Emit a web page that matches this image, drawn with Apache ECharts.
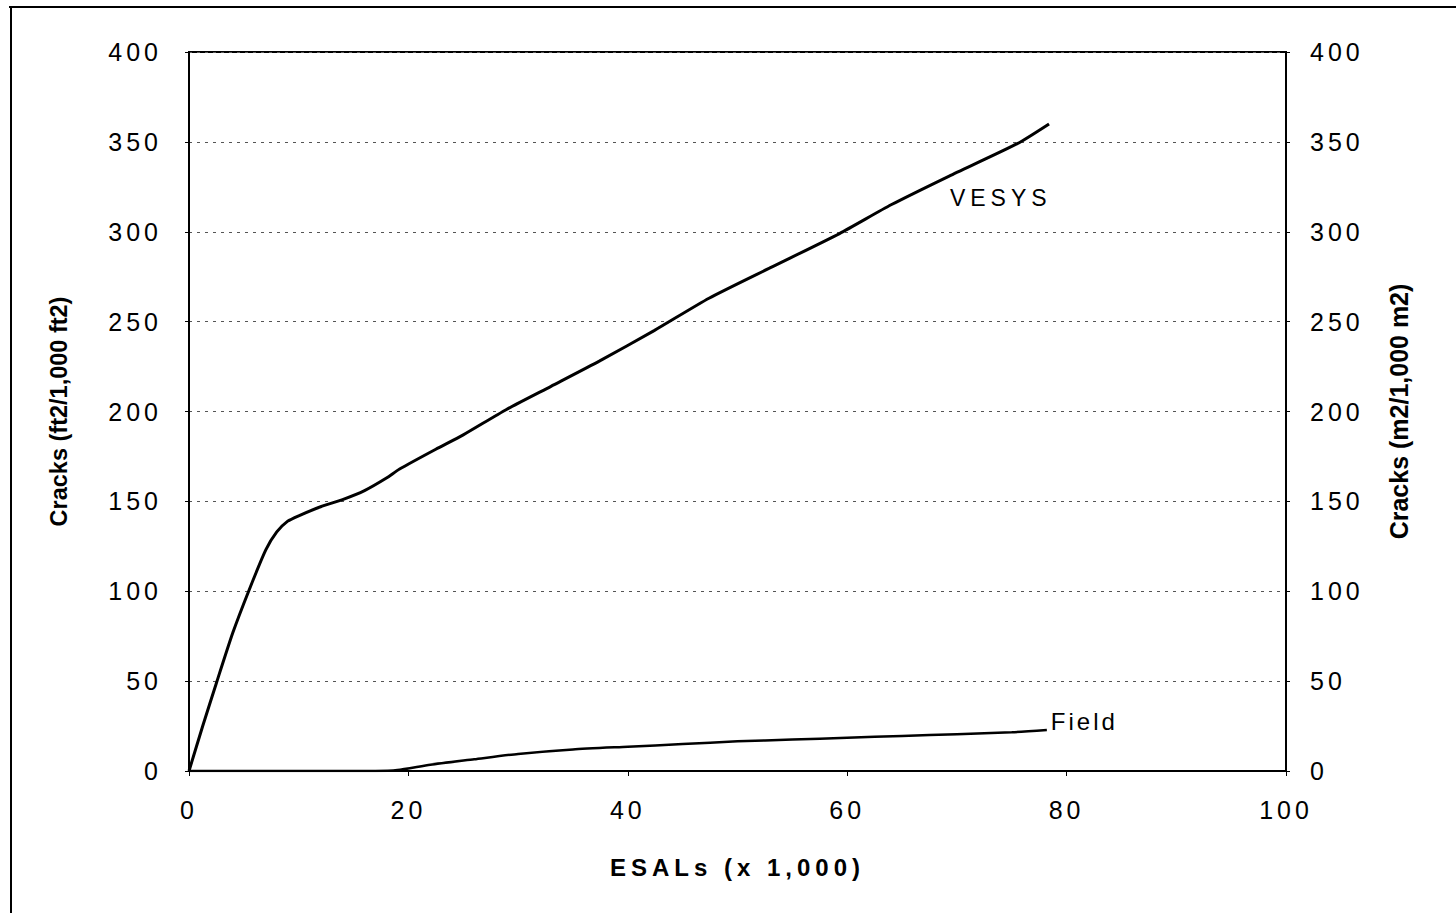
<!DOCTYPE html>
<html>
<head>
<meta charset="utf-8">
<script src="https://cdn.jsdelivr.net/npm/echarts@6/dist/echarts.min.js"></script>
<style>
html,body{margin:0;padding:0;background:#fff;}
#chart{width:1456px;height:913px;}
</style>
</head>
<body>
<div id="chart"></div>
<script>
// ESALs (x 1,000) vs Cracks (ft2/1,000 ft2)
const esalsVesys  = [0, 1.25, 2.5, 4, 5.5, 7, 8, 9, 10, 12, 14, 16, 18, 19.2, 22.5, 25, 28.9, 33, 37.4, 42.4, 47.4, 53, 59.3, 64, 69.3, 75.5, 78.4];
const cracksVesys = [0, 25, 49, 77, 101, 123, 133, 139, 142, 147, 151, 156, 163, 168, 179, 187, 201, 214, 228, 245, 263, 280, 299, 315, 331, 349, 360];

const esalsField  = [0, 10, 17, 19, 22, 26, 30, 35, 40, 45, 50, 55, 60, 65, 70, 75, 78.2];
const cracksField = [0, 0, 0, 0.5, 3.5, 6.5, 9.5, 12, 13.5, 15, 16.5, 17.5, 18.5, 19.5, 20.5, 21.5, 22.8];

const xTicks = [0, 20, 40, 60, 80, 100];
const yTicks = [0, 50, 100, 150, 200, 250, 300, 350, 400];

const seriesNames = ['VESYS', 'Field'];
const xTitle = 'ESALs (x 1,000)';
const yLeftTitle = 'Cracks (ft2/1,000 ft2)';
const yRightTitle = 'Cracks (m2/1,000 m2)';

const FONT = '"Liberation Sans", Arial, sans-serif';

const pairs = (xs, ys) => xs.map((x, i) => [x, ys[i]]);

const chart = echarts.init(document.getElementById('chart'), null, {renderer: 'svg'});

const yAxisBase = {
  type: 'value',
  min: yTicks[0],
  max: yTicks[yTicks.length - 1],
  interval: 50,
  axisLine: {show: true, lineStyle: {color: '#000', width: 2}},
  axisTick: {show: true, inside: false, length: 4, lineStyle: {color: '#000'}},
  nameLocation: 'middle',
  nameRotate: 90
};

const tickFont = {fontFamily: FONT, fontSize: 25, color: '#000'};

chart.setOption({
  animation: false,
  backgroundColor: '#fff',
  graphic: [
    {type: 'line', shape: {x1: 11, y1: 7, x2: 11, y2: 913}, style: {stroke: '#000', lineWidth: 2}},
    {type: 'line', shape: {x1: 9, y1: 7, x2: 1456, y2: 7}, style: {stroke: '#000', lineWidth: 2}}
  ],
  grid: {left: 189, right: 170, top: 52, bottom: 142, show: true, borderColor: '#000', borderWidth: 2, backgroundColor: 'transparent'},
  xAxis: {
    type: 'value',
    min: xTicks[0],
    max: xTicks[xTicks.length - 1],
    interval: 20,
    name: xTitle,
    nameLocation: 'middle',
    nameGap: 84,
    nameTextStyle: {fontFamily: FONT, fontSize: 24, fontWeight: 'bold', color: '#000'},
    axisLine: {show: true, lineStyle: {color: '#000', width: 2}},
    axisTick: {show: true, length: 5, lineStyle: {color: '#000'}},
    axisLabel: Object.assign({margin: 26}, tickFont),
    splitLine: {show: false}
  },
  yAxis: [
    Object.assign({}, yAxisBase, {
      position: 'left',
      name: yLeftTitle,
      nameGap: 118,
      nameTextStyle: {fontFamily: FONT, fontSize: 23.5, fontWeight: 'bold', color: '#000'},
      axisLabel: Object.assign({margin: 27}, tickFont),
      splitLine: {show: true, lineStyle: {color: '#555', width: 1, type: [3, 5]}}
    }),
    Object.assign({}, yAxisBase, {
      position: 'right',
      name: yRightTitle,
      nameGap: 100,
      nameTextStyle: {fontFamily: FONT, fontSize: 25, fontWeight: 'bold', color: '#000'},
      axisLabel: Object.assign({margin: 24}, tickFont),
      splitLine: {show: false}
    })
  ],
  series: [
    {
      name: seriesNames[0],
      type: 'line',
      data: pairs(esalsVesys, cracksVesys),
      showSymbol: false,
      smooth: 0.2,
      lineStyle: {color: '#000', width: 3},
      markPoint: {
        symbol: 'circle',
        symbolSize: 0,
        silent: true,
        label: {show: true, formatter: seriesNames[0], fontFamily: FONT, fontSize: 23, color: '#000', position: 'inside'},
        data: [{coord: [74, 319]}]
      }
    },
    {
      name: seriesNames[1],
      type: 'line',
      data: pairs(esalsField, cracksField),
      showSymbol: false,
      smooth: 0.2,
      lineStyle: {color: '#000', width: 2.5},
      endLabel: {show: true, formatter: seriesNames[1], fontFamily: FONT, fontSize: 24, color: '#000', offset: [0, -9], distance: 4}
    }
  ]
});

function applySpacing() {
  document.querySelectorAll('#chart svg text').forEach(t => {
    const s = t.textContent;
    let ls = 0;
    if (/^\d+$/.test(s)) ls = 4;
    else if (s === xTitle) ls = 5;
    else if (s === seriesNames[0]) ls = 5;
    else if (s === seriesNames[1]) ls = 3;
    t.style.letterSpacing = ls + 'px';
  });
}
chart.on('finished', applySpacing);
applySpacing();
</script>
</body>
</html>
